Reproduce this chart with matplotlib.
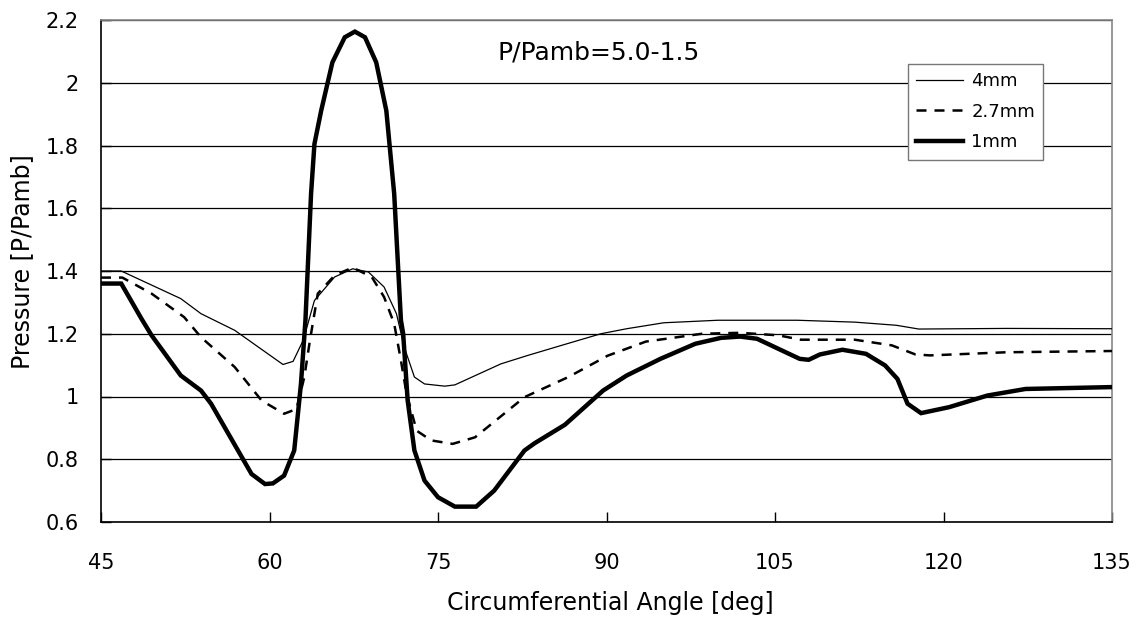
import matplotlib
matplotlib.use("Agg")
import matplotlib.pyplot as plt
from matplotlib.ticker import FuncFormatter

# ---- data ----
x_4mm = [45, 46.8, 52.1, 53.9, 56.9, 61.2, 62.1, 63.0, 64.0, 65.8, 67.4, 68.8,
         70.2, 71.3, 72.0, 72.9, 73.8, 75.6, 76.5, 80.6, 83.0, 86.0, 89.5, 91.8,
         95.1, 99.9, 107.0, 112.1, 115.8, 117.8, 125.6, 135]
y_4mm = [1.40, 1.40, 1.312, 1.264, 1.211, 1.102, 1.112, 1.179, 1.306, 1.381, 1.407, 1.397,
         1.349, 1.264, 1.157, 1.062, 1.040, 1.033, 1.037, 1.104, 1.131, 1.163, 1.20, 1.216,
         1.235, 1.243, 1.243, 1.237, 1.227, 1.215, 1.217, 1.216]

x_27mm = [45, 46.9, 49.5, 52.4, 53.9, 56.9, 59.3, 61.3, 62.4, 63.1, 63.6, 64.3,
          65.8, 67.4, 69.1, 70.2, 71.1, 71.7, 72.2, 73.1, 74.4, 76.3, 78.3, 82.7,
          86.6, 90.1, 93.5, 98.5, 101.9, 105.3, 107.3, 112.1, 115.4, 117.5, 118.8,
          125.6, 135]
y_27mm = [1.379, 1.379, 1.328, 1.253, 1.189, 1.094, 0.987, 0.945, 0.96, 1.062, 1.179, 1.328,
          1.386, 1.411, 1.381, 1.317, 1.232, 1.115, 1.009, 0.891, 0.860, 0.849, 0.87, 0.998,
          1.062, 1.13, 1.175, 1.200, 1.203, 1.195, 1.181, 1.181, 1.163, 1.134, 1.131,
          1.141, 1.145]

x_1mm = [45, 46.8, 48.6, 49.5, 52.1, 53.9, 54.8, 58.4, 59.6, 60.3, 61.3, 62.2,
         62.8, 63.2, 63.7, 64.0, 64.6, 65.6, 66.7, 67.6, 68.5, 69.5, 70.4, 71.1,
         71.7, 71.9, 72.3, 72.9, 73.8, 75.0, 76.5, 78.4, 80.0, 82.7, 83.6, 86.3,
         89.7, 91.8, 94.8, 97.9, 100.2, 101.9, 103.4, 105.3, 107.2, 108.0, 109.0,
         111.0, 113.1, 114.8, 115.9, 116.8, 118.0, 120.5, 123.9, 127.3, 135]
y_1mm = [1.36, 1.36, 1.248, 1.195, 1.067, 1.019, 0.977, 0.753, 0.721, 0.723, 0.748, 0.828,
         1.04, 1.243, 1.646, 1.805, 1.911, 2.065, 2.145, 2.163, 2.145, 2.065, 1.911, 1.646,
         1.243, 1.2, 0.987, 0.828, 0.732, 0.679, 0.649, 0.649, 0.70, 0.828, 0.851, 0.91,
         1.019, 1.067, 1.12, 1.168, 1.187, 1.191, 1.184, 1.152, 1.12, 1.117, 1.134,
         1.149, 1.136, 1.099, 1.056, 0.977, 0.947, 0.966, 1.003, 1.024, 1.030]

x_ticks = [45, 60, 75, 90, 105, 120, 135]
y_ticks = [0.6, 0.8, 1.0, 1.2, 1.4, 1.6, 1.8, 2.0, 2.2]
series_labels = ["4mm", "2.7mm", "1mm"]
title_text = "P/Pamb=5.0-1.5"
x_label = "Circumferential Angle [deg]"
y_label = "Pressure [P/Pamb]"

# ---- figure ----
plt.rcParams['font.family'] = ['DejaVu Sans']
fig = plt.figure(figsize=(11.46, 6.19), dpi=100)
ax = fig.add_axes([101/1146, 1 - 522/619, (1112-101)/1146, (522-20)/619])

ax.plot(x_4mm, y_4mm, color='black', lw=0.9, label=series_labels[0], zorder=3)
ax.plot(x_27mm, y_27mm, color='black', lw=1.8, linestyle=(0, (4, 3.2)),
        label=series_labels[1], zorder=3)
ax.plot(x_1mm, y_1mm, color='black', lw=3.2, label=series_labels[2], zorder=4,
        solid_joinstyle='miter')

ax.set_xlim(45, 135)
ax.set_ylim(0.6, 2.2)
ax.set_xticks(x_ticks)
ax.set_yticks(y_ticks)
ax.yaxis.set_major_formatter(FuncFormatter(lambda v, p: f"{v:g}"))
ax.yaxis.grid(True, color='black', lw=0.9)
ax.set_axisbelow(True)

ax.tick_params(axis='both', direction='in', length=7, width=1, labelsize=15, color='black')
ax.tick_params(axis='x', pad=22)
ax.tick_params(axis='y', pad=16)

for s in ['left', 'bottom']:
    ax.spines[s].set_color('black')
    ax.spines[s].set_linewidth(1.2)
for s in ['top', 'right']:
    ax.spines[s].set_color('#888888')
    ax.spines[s].set_linewidth(1.2)

ax.text(89.3, 2.096, title_text, ha='center', va='center', fontsize=18)

fig.text(610/1146, 1 - 603/619, x_label, ha='center', va='center', fontsize=17)
fig.text(22/1146, 1 - 262/619, y_label, ha='center', va='center', fontsize=17,
         rotation=90)

leg = ax.legend(loc='upper left', bbox_to_anchor=((908-101)/1011, 1 - (64-20)/502),
                frameon=True, fancybox=False, edgecolor='#777777', fontsize=13,
                handlelength=2.6, handletextpad=0.45, borderpad=0.45, labelspacing=0.7,
                borderaxespad=0)
leg.get_frame().set_linewidth(1.0)
leg.get_frame().set_facecolor('white')
leg.get_frame().set_alpha(1)

fig.savefig("out.png", dpi=100)
